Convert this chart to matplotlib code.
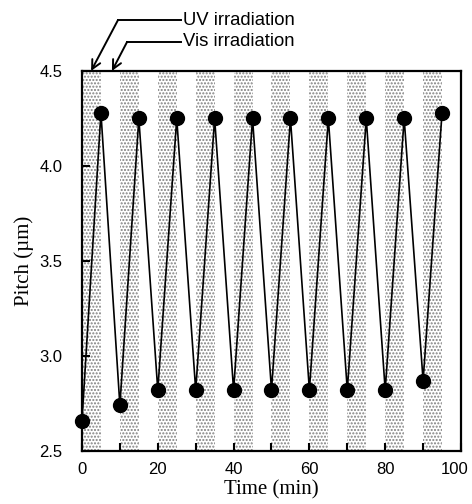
import matplotlib.pyplot as plt
import matplotlib.transforms as mtransforms

# pitch readings, alternating Vis (low) and UV (high) states
time_min = [0, 5, 10, 15, 20, 25, 30, 35, 40, 45, 50, 55, 60, 65, 70, 75, 80, 85, 90, 95]
pitch_um = [2.66, 4.28, 2.74, 4.25, 2.82, 4.25, 2.82, 4.25, 2.82, 4.25,
            2.82, 4.25, 2.82, 4.25, 2.82, 4.25, 2.82, 4.25, 2.87, 4.28]

# UV irradiation intervals (shaded)
uv_start = [0, 10, 20, 30, 40, 50, 60, 70, 80, 90]
uv_length = 5

x_ticks = [0, 20, 40, 60, 80, 100]
y_ticks = [2.5, 3.0, 3.5, 4.0, 4.5]

SANS = "Liberation Sans"
SERIF = "Liberation Serif"

fig = plt.figure(figsize=(4.72, 5.04), dpi=100)
ax = fig.add_axes([0.1737, 0.1052, 0.803, 0.754])

for s in uv_start:
    ax.axvspan(s, s + uv_length, facecolor="white", edgecolor="#808080",
               hatch=".....", linewidth=0, zorder=0)

ax.plot(time_min, pitch_um, "-", color="black", linewidth=1.2, zorder=2,
        clip_on=False)
ax.plot(time_min, pitch_um, "o", color="black", markersize=10, zorder=3,
        clip_on=False)

ax.set_xlim(0, 100)
ax.set_ylim(2.5, 4.5)
ax.set_xticks(x_ticks)
ax.set_xticks(range(10, 100, 20), minor=True)
ax.set_yticks(y_ticks)
ax.set_xticklabels([str(t) for t in x_ticks], fontfamily=SANS, fontsize=12)
ax.set_yticklabels([f"{t:.1f}" for t in y_ticks], fontfamily=SANS, fontsize=12)
ax.tick_params(which="both", direction="in", length=6, width=1.5,
               top=False, right=False, pad=8)
ax.tick_params(axis="y", pad=14)
for sp in ax.spines.values():
    sp.set_linewidth(1.6)

# keep the last x label inside the canvas
last = ax.get_xticklabels()[-1]
last.set_transform(last.get_transform() +
                   mtransforms.ScaledTranslation(-6 / 100, 0, fig.dpi_scale_trans))

ax.set_xlabel("Time (min)", fontfamily=SERIF, fontsize=15, labelpad=2)
ax.set_ylabel("Pitch (\u00b5m)", fontfamily=SERIF, fontsize=15, labelpad=4)

# callout arrows for the two irradiation states
labels = ["UV irradiation", "Vis irradiation"]
tips = [(2.4, 4.5), (7.9, 4.5)]
corners = [(9.5, 4.768), (11.9, 4.653)]
text_x = 26.0
for lab, tip, corner in zip(labels, tips, corners):
    ax.plot([corner[0], text_x], [corner[1], corner[1]], color="black",
            linewidth=1.4, clip_on=False)
    ax.annotate("", xy=tip, xytext=corner,
                arrowprops=dict(arrowstyle="->", color="black", lw=1.4,
                                shrinkA=0, shrinkB=0,
                                mutation_scale=16),
                annotation_clip=False)
    ax.text(text_x + 0.6, corner[1], lab, fontfamily=SANS, fontsize=13.3,
            ha="left", va="center")

fig.savefig("out.png", dpi=100)
